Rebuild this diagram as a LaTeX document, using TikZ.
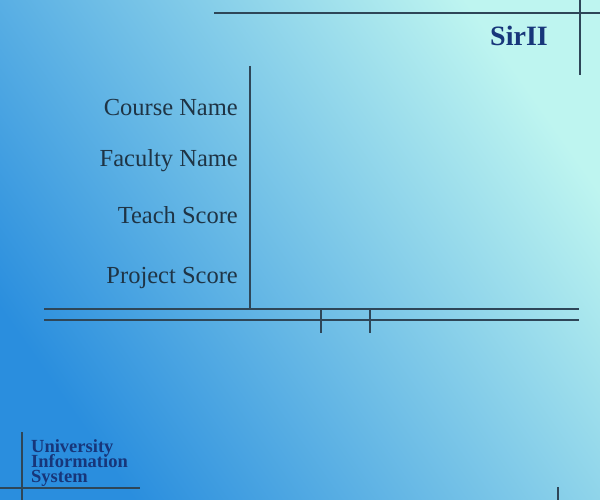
\documentclass[tikz,border=0pt]{standalone}
\usepackage{fontspec}
\setmainfont{Liberation Serif}
\definecolor{bgdark}{HTML}{2A8EDE}
\definecolor{bglight}{HTML}{BEF5F0}
\definecolor{rule}{HTML}{2E4658}
\definecolor{labeltext}{HTML}{1F3445}
\definecolor{navytext}{HTML}{17367A}
\tikzset{
  rulestroke/.style={draw=rule, line width=2.2bp},
  fieldlabel/.style={anchor=base east, inner sep=0pt, text=labeltext,
    font=\rmfamily\fontsize{24.5bp}{28bp}\selectfont},
  logoline/.style={anchor=base west, inner sep=0pt, text=navytext,
    font=\rmfamily\bfseries\fontsize{18.5bp}{15bp}\selectfont},
}

\begin{document}
\begin{tikzpicture}[x=1bp,y=-1bp]
\useasboundingbox (0,0) rectangle (600,500);
\shade[bottom color=bgdark, top color=bglight, shading angle=-55] (0,0) rectangle (600,500);

% frame corners
\path (214,13) coordinate(TL) (600,13) coordinate(TR);
\path (580,0) coordinate(RT) (580,75) coordinate(RB);
\path (250,66) coordinate(VT) (250,309) coordinate(VB);
\path (44,309) coordinate(HA) (579,309) coordinate(HB);
\path (44,320) coordinate(HC) (579,320) coordinate(HD);
\path (321,310) coordinate(TA) (321,333) coordinate(TB);
\path (370,310) coordinate(TC) (370,333) coordinate(TD);
\path (22,432) coordinate(BT) (22,500) coordinate(BB);
\path (0,488) coordinate(BL) (140,488) coordinate(BR);
\path (558,487) coordinate(ST) (558,500) coordinate(SB);

\draw[rulestroke] (TL)--(TR);
\draw[rulestroke] (RT)--(RB);
\draw[rulestroke] (VT)--(VB);
\draw[rulestroke] (HA)--(HB);
\draw[rulestroke] (HC)--(HD);
\draw[rulestroke] (TA)--(TB);
\draw[rulestroke] (TC)--(TD);
\draw[rulestroke] (BT)--(BB);
\draw[rulestroke] (BL)--(BR);
\draw[rulestroke] (ST)--(SB);

% labels
\node[fieldlabel] (course) at (238,116) {Course Name};
\node[fieldlabel] (faculty) at (238,167) {Faculty Name};
\node[fieldlabel] (teach) at (238,224) {Teach Score};
\node[fieldlabel] (project) at (238,283) {Project Score};

\node[anchor=base east, inner sep=0pt, text=navytext,
  font=\rmfamily\bfseries\fontsize{28bp}{32bp}\selectfont] (brand) at (548,46) {SirII};

\node[logoline] (uni) at (31,452) {University};
\node[logoline] (info) at (31,467) {Information};
\node[logoline] (sys) at (31,482) {System};
\end{tikzpicture}
\end{document}
